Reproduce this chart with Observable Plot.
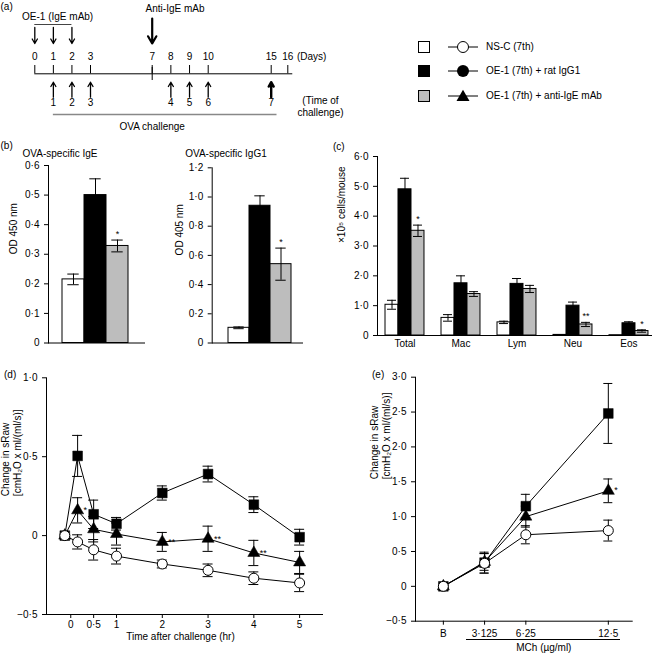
<!DOCTYPE html>
<html><head><meta charset="utf-8">
<script src="https://cdn.jsdelivr.net/npm/d3@7"></script>
<script src="https://cdn.jsdelivr.net/npm/@observablehq/plot@0.6"></script>
<style>
body{margin:0;background:#fff;}
#root{position:relative;width:657px;height:655px;overflow:hidden;font-family:"Liberation Sans",Arial,Helvetica,sans-serif;font-size:10px;color:#000;background:#fff;}
.t{position:absolute;white-space:nowrap;line-height:10px;font-size:10px;}
</style></head><body><div id="root"></div>
<script>
// ---------- DATA ----------
// (a) protocol timeline
const oeDays = [0, 1, 2];
const antiIgEDays = [7];
const dayTicks = [0, 1, 2, 3, 7, 8, 9, 10, 15, 16];
const challengeDays = [1, 2, 3, 8, 9, 10, 15];
const challengeNo = [1, 2, 3, 4, 5, 6, 7];

// groups
const groups = ["NS-C (7th)", "OE-1 (7th) + rat IgG1", "OE-1 (7th) + anti-IgE mAb"];
const groupFills = ["#ffffff", "#000000", "#bdbdbd"];

// (b) OVA-specific antibodies
const igeMean = [0.215, 0.50, 0.328];
const igeErr = [0.018, 0.055, 0.02];
const igeSig = ["", "", "*"];
const igg1Mean = [0.104, 0.94, 0.54];
const igg1Err = [0.006, 0.068, 0.11];
const igg1Sig = ["", "", "*"];

// (c) BAL cells
const cellTypes = ["Total", "Mac", "Lym", "Neu", "Eos"];
const cellNSC = [1.03, 0.59, 0.44, 0.02, 0.01];
const cellNSCErr = [0.15, 0.11, 0.04, 0, 0];
const cellRat = [4.90, 1.75, 1.73, 1.00, 0.41];
const cellRatErr = [0.37, 0.25, 0.18, 0.12, 0.05];
const cellAnti = [3.51, 1.39, 1.56, 0.37, 0.15];
const cellAntiErr = [0.19, 0.08, 0.12, 0.07, 0.04];
const cellSig = ["*", "", "", "**", "*"];

// (d) time course
const timeHr = [-0.13, 0.15, 0.5, 1, 2, 3, 4, 5];
const timeTicks = [0, 0.5, 1, 2, 3, 4, 5];
const dNSC = [0, -0.04, -0.09, -0.13, -0.18, -0.22, -0.27, -0.30];
const dNSCErr = [0, 0.045, 0.065, 0.05, 0.025, 0.04, 0.04, 0.055];
const dRat = [0, 0.505, 0.135, 0.075, 0.27, 0.39, 0.196, -0.01];
const dRatErr = [0, 0.13, 0.09, 0.04, 0.045, 0.05, 0.05, 0.05];
const dAnti = [0, 0.16, 0.04, 0.01, -0.04, -0.02, -0.11, -0.17];
const dAntiErr = [0, 0.08, 0.08, 0.07, 0.06, 0.08, 0.08, 0.07];
const dSig = ["", "*", "", "", "**", "**", "**", ""];

// (e) MCh dose response
const mchDose = [0, 3.125, 6.25, 12.5];
const mchLabels = ["B", "3·125", "6·25", "12·5"];
const eNSC = [0, 0.33, 0.74, 0.80];
const eNSCErr = [0, 0.14, 0.13, 0.15];
const eRat = [0, 0.34, 1.15, 2.48];
const eRatErr = [0, 0.15, 0.17, 0.43];
const eAnti = [0, 0.35, 1.0, 1.37];
const eAntiErr = [0, 0.12, 0.15, 0.17];
const eSig = ["", "", "", "*"];

// ---------- HELPERS ----------
const root = document.getElementById("root");
const FONT = '"Liberation Sans", Arial, Helvetica, sans-serif';
const baseStyle = {background: "transparent", fontFamily: FONT, fontSize: "10px", color: "black", overflow: "visible"};
const dotfmt = s => String(s).replace("-", "\u2212").replace(".", "\u00b7");
const fmt1 = d => d === 0 ? "0" : dotfmt(d.toFixed(1));
const id = d => d;

function place(node, left, top) {
  node.style.position = "absolute";
  node.style.left = left + "px";
  node.style.top = top + "px";
  node.style.display = "block";
  root.appendChild(node);
}
function label(text, left, top, center) {
  const d = document.createElement("div");
  d.className = "t";
  d.textContent = text;
  d.style.left = left + "px";
  d.style.top = top + "px";
  if (center) d.style.transform = "translateX(-50%)";
  root.appendChild(d);
  return d;
}

// ---------- (a) ----------
// the schematic's day axis is drawn unevenly spaced (as in the original figure)
const dayAxis = d3.scaleLinear().domain([0, 3, 7, 10, 15, 16]).range([34.3, 90, 151.7, 207.7, 270.7, 287.3]);
const pa = Plot.plot({
  width: 360, height: 140, margin: 0,
  x: {transform: dayAxis, domain: [0, 360], range: [0, 360], axis: null},
  y: {domain: [0, 14], range: [0, 140], axis: null},
  style: baseStyle,
  marks: [
    Plot.text(["OE-1 (IgE mAb)"], {x: 1.23, y: 1.67, text: id}),
    Plot.ruleY([2.4], {x1: 0, x2: 2, stroke: "#444"}),
    Plot.arrow(oeDays, {x1: id, x2: id, y1: 2.7, y2: 4.3, headLength: 6, strokeWidth: 1.3}),
    Plot.text(["Anti-IgE mAb"], {x: 6.57, y: 0.83, textAnchor: "start", text: id}),
    Plot.arrow(antiIgEDays, {x1: id, x2: id, y1: 1.8, y2: 4.3, headLength: 7, strokeWidth: 2.2}),
    Plot.text(dayTicks, {x: id, y: 5.6, text: d => String(d)}),
    Plot.text(["(Days)"], {x: 16.55, y: 5.6, textAnchor: "start", text: id}),
    Plot.ruleY([7.33], {x1: 0, x2: 16.3}),
    Plot.ruleX(dayTicks, {x: id, y1: 6.5, y2: 7.33}),
    Plot.ruleX(antiIgEDays, {x: id, y1: 6.7, y2: 8.0}),
    Plot.arrow(challengeDays.filter(d => d !== 15), {x1: id, x2: id, y1: 9.67, y2: 8.17, headLength: 6, strokeWidth: 1.3}),
    Plot.arrow(challengeDays.filter(d => d === 15), {x1: id, x2: id, y1: 9.67, y2: 8.17, headLength: 7, strokeWidth: 2.4}),
    Plot.text(challengeDays, {x: id, y: 10.27, text: (d, i) => String(challengeNo[i])}),
    Plot.ruleY([11.4], {x1: 1, x2: 15.35, stroke: "#888", strokeWidth: 1.5}),
    Plot.text(["OVA challenge"], {x: 7, y: 12.67, text: id}),
    Plot.text(["(Time of\nchallenge)"], {x: 17.97, y: 10.6, lineHeight: 1.2, text: id})
  ]
});
place(pa, 0, 0);

// legend
const legendY = [47, 71, 96];
const legendSym = [
  '<circle cx="16" cy="8" r="5.5" fill="white" stroke="black" stroke-width="1"/>',
  '<circle cx="16" cy="8" r="6" fill="black"/>',
  '<path d="M16,1.8 L22.5,13 L9.5,13 Z" fill="black"/>'
];
groups.forEach((g, i) => {
  const sq = document.createElement("div");
  sq.style.cssText = `position:absolute;left:418px;top:${legendY[i] - 6}px;width:12px;height:12px;box-sizing:border-box;border:1.3px solid #000;background:${groupFills[i]};`;
  root.appendChild(sq);
  const s = document.createElement("div");
  s.style.cssText = `position:absolute;left:447px;top:${legendY[i] - 8}px;width:32px;height:16px;`;
  s.innerHTML = `<svg width="32" height="16" style="display:block"><line x1="1" x2="31" y1="8" y2="8" stroke="black" stroke-width="1"/>${legendSym[i]}</svg>`;
  root.appendChild(s);
  label(g, 486, legendY[i] - 5);
});

// ---------- (b) ----------
function barPanel(mean, err, sig, o) {
  const data = groups.map((g, i) => ({group: g, v: mean[i], e: err[i], sig: sig[i]}));
  return Plot.plot({
    width: o.width, height: 215,
    marginLeft: o.ml, marginRight: o.mr, marginTop: o.mt, marginBottom: 12.5,
    x: {domain: groups, paddingInner: 0, paddingOuter: o.p, align: o.align, axis: null},
    y: {domain: [0, o.ymax], ticks: o.ticks, tickFormat: fmt1, tickSize: 4, line: true, label: null},
    color: {domain: groups, range: groupFills},
    style: baseStyle,
    marks: [
      Plot.barY(data, {x: "group", y: "v", fill: "group", stroke: "black", strokeWidth: 1}),
      Plot.ruleY([0]),
      Plot.ruleX(data, {x: "group", y1: d => d.v - d.e, y2: d => d.v + d.e}),
      Plot.tickY(data, {x: "group", y: d => d.v + d.e, insetLeft: 5.3, insetRight: 5.3}),
      Plot.tickY(data, {x: "group", y: d => d.v - d.e, insetLeft: 5.3, insetRight: 5.3}),
      Plot.text(data.filter(d => d.sig), {x: "group", y: d => d.v + d.e, text: "sig", dy: -6, fontSize: 9}),
      Plot.text([o.ylabel], {frameAnchor: "left", rotate: -90, dx: o.ldx, text: id})
    ]
  });
}
place(barPanel(igeMean, igeErr, igeSig, {width: 155, ml: 48, mr: 10, mt: 25, ymax: 0.6, ticks: [0, 0.1, 0.2, 0.3, 0.4, 0.5, 0.6], p: 0.685, align: 0.45, ylabel: "OD 450 nm", ldx: -34.5}), 0, 140);
place(barPanel(igg1Mean, igg1Err, igg1Sig, {width: 165, ml: 61.7, mr: 12, mt: 27.3, ymax: 1.2, ticks: [0, 0.2, 0.4, 0.6, 0.8, 1.0, 1.2], p: 0.607, align: 0.57, ylabel: "OD 405 nm", ldx: -32.7}), 150, 140);

// ---------- (c) ----------
const cellMeans = [cellNSC, cellRat, cellAnti];
const cellErrs = [cellNSCErr, cellRatErr, cellAntiErr];
const cellData = [];
cellTypes.forEach((c, ci) => groups.forEach((g, gi) => cellData.push({
  cat: ci, group: g, gi, v: cellMeans[gi][ci], e: cellErrs[gi][ci], sig: gi === 2 ? cellSig[ci] : ""
})));
const barW = 0.232;
const xc = d => d.cat + (d.gi - 1) * barW;
const pc = Plot.plot({
  width: 327, height: 215, marginLeft: 47, marginRight: 5, marginTop: 16, marginBottom: 20,
  x: {domain: [-0.491, 4.42], ticks: [0, 1, 2, 3, 4], tickFormat: i => cellTypes[i], tickSize: 0, tickPadding: 4, label: null},
  y: {domain: [0, 6], ticks: [0, 1, 2, 3, 4, 5, 6], tickFormat: fmt1, tickSize: 4, line: true, label: null},
  color: {domain: groups, range: groupFills},
  style: baseStyle,
  marks: [
    Plot.rect(cellData, {x1: d => xc(d) - barW / 2, x2: d => xc(d) + barW / 2, y1: 0, y2: "v", fill: "group", stroke: "black", strokeWidth: 1}),
    Plot.ruleY([0]),
    Plot.ruleX(cellData.filter(d => d.e > 0), {x: xc, y1: d => d.v - d.e, y2: d => d.v + d.e}),
    Plot.ruleY(cellData.filter(d => d.e > 0), {x1: xc, x2: xc, y: d => d.v + d.e, insetLeft: -4.5, insetRight: -4.5}),
    Plot.ruleY(cellData.filter(d => d.e > 0), {x1: xc, x2: xc, y: d => d.v - d.e, insetLeft: -4.5, insetRight: -4.5}),
    Plot.text(cellData.filter(d => d.sig), {x: xc, y: d => d.v + d.e, text: "sig", dy: -6, fontSize: 9}),
    Plot.text(["\u00d710\u2075 cells/mouse"], {frameAnchor: "left", rotate: -90, dx: -36, dy: -3, text: id})
  ]
});
place(pc, 330, 140);

// ---------- line panels ----------
function seriesRows(xs, means, errs, sigs) {
  return means.map((m, si) => xs.map((x, i) => ({x, v: m[i], e: errs[si][i], s: groups[si], sig: si === 2 ? sigs[i] : ""}))).flat();
}
function linePanel(rows, o) {
  const withErr = rows.filter(d => d.e > 0);
  const bySeries = s => rows.filter(d => d.s === s);
  return Plot.plot({
    width: o.width, height: 315,
    marginLeft: o.ml, marginRight: o.mr, marginTop: o.mt, marginBottom: o.mb,
    x: o.x,
    y: o.y,
    style: baseStyle,
    marks: [
      Plot.line(rows, {x: "x", y: "v", z: "s", stroke: "black", strokeWidth: 1}),
      Plot.ruleX(withErr, {x: "x", y1: d => d.v - d.e, y2: d => d.v + d.e}),
      Plot.ruleY(withErr, {x1: "x", x2: "x", y: d => d.v + d.e, insetLeft: -o.cap, insetRight: -o.cap}),
      Plot.ruleY(withErr, {x1: "x", x2: "x", y: d => d.v - d.e, insetLeft: -o.cap, insetRight: -o.cap}),
      Plot.dot(bySeries(groups[1]), {x: "x", y: "v", symbol: "square", r: 5.5, fill: "black", stroke: "black", strokeWidth: 0.5}),
      Plot.dot(bySeries(groups[2]), {x: "x", y: "v", symbol: "triangle", r: 4.5, fill: "black", stroke: "black", strokeWidth: 0.5}),
      Plot.dot(bySeries(groups[0]), {x: "x", y: "v", symbol: "circle", r: 5, fill: "white", stroke: "black", strokeWidth: 1}),
      Plot.text(rows.filter(d => d.sig), {x: "x", y: "v", text: "sig", textAnchor: "start", dx: o.sdx, dy: o.sdy, fontSize: 9}),
      Plot.text(["Change in sRaw\n[cmH\u2082O x ml/(ml/s)]"], {frameAnchor: "left", rotate: -90, dx: o.ldx, dy: o.ldy, lineHeight: 1.2, text: id}),
      Plot.text([o.xlabel], {frameAnchor: "bottom", dx: o.xldx, dy: o.xldy, text: id})
    ]
  });
}

// (d)
const dRows = seriesRows(timeHr, [dNSC, dRat, dAnti], [dNSCErr, dRatErr, dAntiErr], dSig);
place(linePanel(dRows, {
  width: 330, ml: 46, mr: 8, mt: 37.3, mb: 41, cap: 5,
  x: {domain: [-0.53, 5.5], ticks: timeTicks, tickFormat: dotfmt, tickSize: 4, tickPadding: 2, line: true, label: null},
  y: {domain: [-0.5, 1], ticks: [-0.5, 0, 0.5, 1], tickFormat: fmt1, tickSize: 4, line: true, label: null},
  sdx: 6, sdy: 0, ldx: -35, ldy: 0,
  xlabel: "Time after challenge (hr)", xldx: -4, xldy: 25
}), 0, 340);

// (e)
const eRows = seriesRows(mchDose, [eNSC, eRat, eAnti], [eNSCErr, eRatErr, eAntiErr], eSig);
place(linePanel(eRows, {
  width: 327, ml: 85, mr: 25.3, mt: 36.7, mb: 34.3, cap: 4.5,
  x: {domain: [-2.11, 14.31], ticks: mchDose, tickFormat: d => mchLabels[mchDose.indexOf(d)], tickSize: 4, line: true, label: null},
  y: {domain: [-0.5, 3], ticks: [-0.5, 0, 0.5, 1, 1.5, 2, 2.5, 3], tickFormat: fmt1, tickSize: 4, line: true, label: null},
  sdx: 6, sdy: -1, ldx: -35.5, ldy: -20,
  xlabel: "MCh (\u00b5g/ml)", xldx: 20, xldy: 30
}), 330, 340);

// ---------- panel letters, titles, decorations ----------
const ul = document.createElement("div");
ul.style.cssText = "position:absolute;left:466px;top:639px;width:154px;height:0;border-top:1px solid #000;";
root.appendChild(ul);
label("(a)", 0.5, 1.5);
label("(b)", 0.5, 141);
label("(c)", 333, 141.5);
label("(d)", 4, 370);
label("(e)", 372, 370);
label("OVA-specific IgE", 60, 149, true);
label("OVA-specific IgG1", 226, 149, true);
</script></body></html>
